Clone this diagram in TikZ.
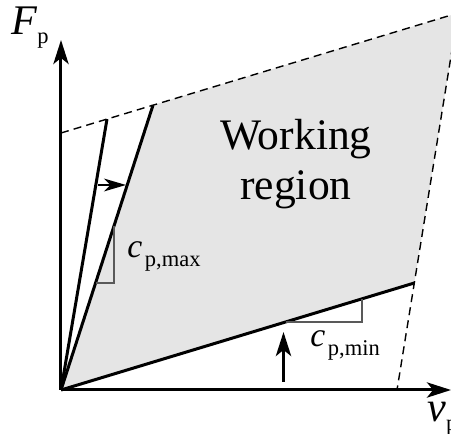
\documentclass[tikz,border=0pt]{standalone}
\usepackage{fontspec}
\setmainfont{Liberation Serif}
\usetikzlibrary{arrows.meta,calc}

\tikzset{
  axis/.style={line width=0.75mm, -{Stealth[length=6mm,width=3.8mm,inset=1.5mm]}},
  bound/.style={line width=0.35mm, dash pattern=on 2mm off 1.3mm},
  stiff/.style={line width=0.75mm},
  slope/.style={line width=0.4mm, black!65},
  shiftarrow/.style={line width=0.6mm, -{Stealth[length=5.5mm,width=3.2mm,inset=1.6mm]}},
  lbl/.style={inner sep=0pt, anchor=base west},
}
\newcommand{\bigtxt}{\fontsize{30}{34}\selectfont}
\newcommand{\midtxt}{\fontsize{24}{28}\selectfont}
\newcommand{\subtxt}{\fontsize{16}{16}\selectfont}

\begin{document}
\begin{tikzpicture}[x=0.25mm, y=0.25mm]
            \useasboundingbox (-61,-44) rectangle (390,390);

            % Corners of the region
            \coordinate (O) at (0,0);
            \coordinate (D) at (0,257);
            \coordinate (Q) at (46,270.9);
            \coordinate (P) at (92,284.8);
            \coordinate (R) at (397,377);
            \coordinate (S) at (353.3,107);
            \coordinate (E) at (336,0);

            % Working region
            \fill[gray!20] (O) -- (P) -- (R) -- (S) -- cycle;
            \draw[bound] (D) -- (R) -- (E);

            % Stiffness lines
            \draw[stiff] (O) -- (Q);
            \draw[stiff] (O) -- (P);
            \draw[stiff] (O) -- (S);

            % Slope triangles
            \coordinate (A1) at ($(O)!0.3757!(P)$);
            \coordinate (B1) at ($(O)!0.576!(P)$);
            \draw[slope] (A1) -- (B1 |- A1) -- (B1);
            \coordinate (A2) at ($(O)!0.6355!(S)$);
            \coordinate (B2) at ($(O)!0.852!(S)$);
            \draw[slope] (A2) -- (B2 |- A2) -- (B2);

            % Shift arrows
            \coordinate (h1) at (37,205);
            \coordinate (h2) at (65,205);
            \draw[shiftarrow] (h1) -- (h2);
            \coordinate (u1) at (222.5,8);
            \coordinate (u2) at (222.5,58);
            \draw[axis] (u1) -- (u2);

            % Axes
            \coordinate (Ytip) at (0,350);
            \coordinate (Xtip) at (390,0);
            \draw[axis] (O) -- (Ytip);
            \draw[axis] (O) -- (Xtip);

            % Labels
            \node[lbl] (Fp) at (-50,355) {\bigtxt\itshape F\/\raisebox{-0.2em}{\subtxt\upshape p}};
            \node[lbl] (vp) at (366,-32) {\bigtxt\itshape v\raisebox{-0.2em}{\subtxt\upshape p}};
            \node[lbl] (cmax) at (66,132) {\midtxt\itshape c\hspace{0.08em}\raisebox{-0.25em}{\subtxt\upshape p,max}};
            \node[lbl] (cmin) at (249,43) {\midtxt\itshape c\hspace{0.08em}\raisebox{-0.25em}{\subtxt\upshape p,min}};
            \node[inner sep=0pt, anchor=base] (work) at (235,240) {\fontsize{31}{34}\selectfont Working};
            \node[inner sep=0pt, anchor=base] (reg) at (235,190) {\fontsize{31}{34}\selectfont region};
        \end{tikzpicture}
\end{document}
